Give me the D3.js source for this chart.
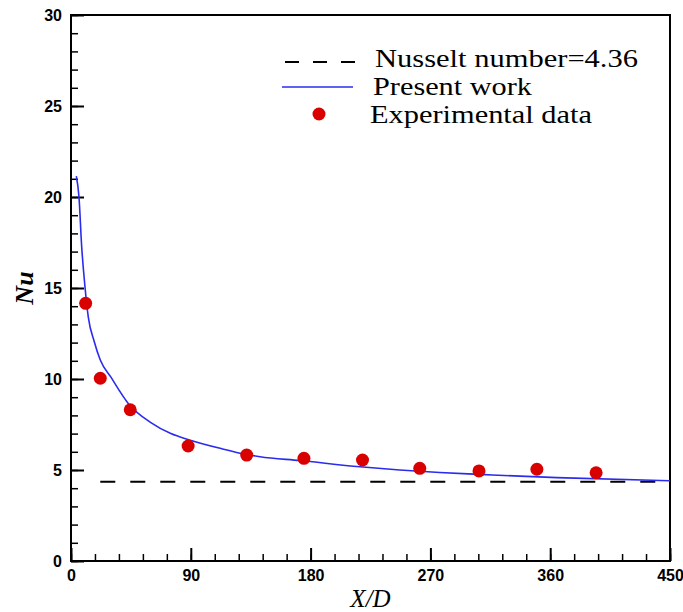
<!DOCTYPE html>
<html>
<head>
<meta charset="utf-8">
<script src="https://cdn.jsdelivr.net/npm/d3@7"></script>
<style>
  body { margin: 0; background: #fff; }
  .tick text { font-family: "Liberation Sans", Arial, sans-serif; font-weight: bold; font-size: 16px; fill: #000; }
  .domain { display: none; }
</style>
</head>
<body>
<script>
// set graph dimensions & margins
var width = 683,
    height = 612;
var margin = {left: 71, right: 13, top: 15, bottom: 51};

// data
var curveX = [4, 6, 8, 10.5, 13, 17.5, 22, 30, 43, 60, 75, 89, 112, 132, 142, 172, 217, 247, 277, 307, 365, 450];
var curveNu = [21.15, 20.0, 17.3, 15.07, 13.4, 12.05, 11.04, 10.1, 8.66, 7.6, 7.0, 6.65, 6.19, 5.85, 5.73, 5.52, 5.18, 5.0, 4.86, 4.76, 4.58, 4.41];
var expX = [11, 22, 44.5, 88, 132, 175, 219, 262, 306.5, 350, 394.5];
var expNu = [14.16, 10.04, 8.31, 6.32, 5.82, 5.64, 5.55, 5.09, 4.95, 5.04, 4.85];
var nusseltConst = 4.36;
var dashStartX = 22;
var xMajor = [0, 90, 180, 270, 360, 450];
var yMajor = [0, 5, 10, 15, 20, 25, 30];

var x = d3.scaleLinear().domain([0, 450]).range([margin.left, width - margin.right]);
var y = d3.scaleLinear().domain([0, 30]).range([height - margin.bottom, margin.top]);

var svg = d3.select("body").append("svg")
    .attr("width", width)
    .attr("height", height);

// minor ticks
svg.append("g")
    .attr("transform", "translate(" + x(0) + ",0)")
    .call(d3.axisLeft(y).tickValues(d3.range(0, 31, 1)).tickSize(-7).tickFormat(""))
    .selectAll("line").attr("stroke", "#000").attr("stroke-width", 1.5);
svg.append("g")
    .attr("transform", "translate(0," + y(0) + ")")
    .call(d3.axisBottom(x).tickValues(d3.range(0, 451, 18)).tickSize(-7).tickFormat(""))
    .selectAll("line").attr("stroke", "#000").attr("stroke-width", 1.5);

// major ticks + labels
var yAxis = svg.append("g")
    .attr("transform", "translate(" + x(0) + ",0)")
    .call(d3.axisLeft(y).tickValues(yMajor).tickSize(-13).tickPadding(9).tickFormat(d3.format("d")));
yAxis.selectAll("line").attr("stroke", "#000").attr("stroke-width", 2);
var xAxis = svg.append("g")
    .attr("transform", "translate(0," + y(0) + ")")
    .call(d3.axisBottom(x).tickValues(xMajor).tickSize(-13).tickPadding(9).tickFormat(d3.format("d")));
xAxis.selectAll("line").attr("stroke", "#000").attr("stroke-width", 2);

// frame
svg.append("rect")
    .attr("x", x(0)).attr("y", y(30))
    .attr("width", x(450) - x(0)).attr("height", y(0) - y(30))
    .attr("fill", "none").attr("stroke", "#000").attr("stroke-width", 2);

// constant Nusselt line
svg.append("line")
    .attr("x1", x(dashStartX)).attr("x2", x(450))
    .attr("y1", y(nusseltConst)).attr("y2", y(nusseltConst))
    .attr("stroke", "#000").attr("stroke-width", 2)
    .attr("stroke-dasharray", "15,15");

// present work curve
var line = d3.line()
    .x(function(d, i) { return x(curveX[i]); })
    .y(function(d) { return y(d); })
    .curve(d3.curveMonotoneX);
svg.append("path")
    .datum(curveNu)
    .attr("d", line)
    .attr("fill", "none")
    .attr("stroke", "#2b2bef")
    .attr("stroke-width", 1.6);

// experimental points
svg.append("g").selectAll("circle")
    .data(expNu)
    .enter().append("circle")
    .attr("cx", function(d, i) { return x(expX[i]); })
    .attr("cy", function(d) { return y(d); })
    .attr("r", 6.5)
    .attr("fill", "#d90000");

// axis titles
svg.append("text")
    .attr("x", (x(0) + x(450)) / 2)
    .attr("y", 607)
    .attr("text-anchor", "middle")
    .style("font-family", "'Liberation Serif', 'Times New Roman', serif")
    .style("font-style", "italic")
    .style("font-size", "25px")
    .text("X/D");
svg.append("text")
    .attr("transform", "translate(33,288) rotate(-90)")
    .attr("text-anchor", "middle")
    .style("font-family", "'Liberation Serif', 'Times New Roman', serif")
    .style("font-style", "italic")
    .style("font-weight", "bold")
    .style("font-size", "26px")
    .text("Nu");

// legend
var legendFont = "'Liberation Serif', 'Times New Roman', serif";
var legend = svg.append("g");
legend.append("line")
    .attr("x1", 285).attr("x2", 357).attr("y1", 62).attr("y2", 62)
    .attr("stroke", "#000").attr("stroke-width", 2)
    .attr("stroke-dasharray", "14,14");
legend.append("line")
    .attr("x1", 282).attr("x2", 353).attr("y1", 87).attr("y2", 87)
    .attr("stroke", "#2b2bef").attr("stroke-width", 1.6);
legend.append("circle")
    .attr("cx", 319).attr("cy", 114).attr("r", 6.5)
    .attr("fill", "#d90000");

var legendText = [
  {t: "Nusselt number=4.36", x: 375, y: 67, w: 263},
  {t: "Present work", x: 373, y: 95, w: 159},
  {t: "Experimental data", x: 370, y: 123, w: 222}
];
legend.selectAll("text.leg")
    .data(legendText)
    .enter().append("text")
    .attr("class", "leg")
    .attr("x", function(d) { return d.x; })
    .attr("y", function(d) { return d.y; })
    .attr("textLength", function(d) { return d.w; })
    .attr("lengthAdjust", "spacingAndGlyphs")
    .style("font-family", legendFont)
    .style("font-size", "25px")
    .text(function(d) { return d.t; });
</script>
</body>
</html>
